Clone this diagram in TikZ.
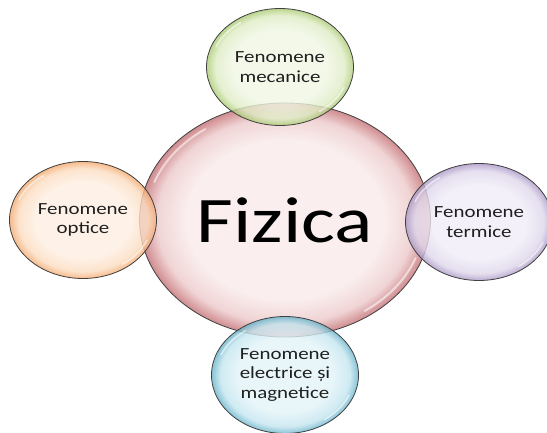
\documentclass[tikz,border=0pt]{standalone}
\usepackage{fontspec}
\setmainfont{Carlito}[FakeStretch=1.23]
\usetikzlibrary{shapes.geometric}
\definecolor{pinkin}{RGB}{250,238,238}
\definecolor{pinkmid}{RGB}{240,212,213}
\definecolor{pinkout}{RGB}{208,140,143}
\definecolor{greenin}{RGB}{240,246,228}
\definecolor{greenmid}{RGB}{222,236,196}
\definecolor{greenout}{RGB}{170,202,115}
\definecolor{orangein}{RGB}{254,239,226}
\definecolor{orangemid}{RGB}{251,220,192}
\definecolor{orangeout}{RGB}{244,170,112}
\definecolor{purplein}{RGB}{240,236,247}
\definecolor{purplemid}{RGB}{222,214,234}
\definecolor{purpleout}{RGB}{170,152,198}
\definecolor{bluein}{RGB}{226,243,248}
\definecolor{bluemid}{RGB}{196,229,239}
\definecolor{blueout}{RGB}{105,180,202}
\pgfdeclareradialshading{bpink}{\pgfpoint{0bp}{0bp}}{color(0bp)=(pinkin); color(17bp)=(pinkin); color(22bp)=(pinkmid); color(25bp)=(pinkout); color(50bp)=(pinkout)}
\pgfdeclareradialshading{bgreen}{\pgfpoint{0bp}{0bp}}{color(0bp)=(greenin); color(16bp)=(greenin); color(22bp)=(greenmid); color(25bp)=(greenout); color(50bp)=(greenout)}
\pgfdeclareradialshading{borange}{\pgfpoint{0bp}{0bp}}{color(0bp)=(orangein); color(16bp)=(orangein); color(22bp)=(orangemid); color(25bp)=(orangeout); color(50bp)=(orangeout)}
\pgfdeclareradialshading{bpurple}{\pgfpoint{0bp}{0bp}}{color(0bp)=(purplein); color(16bp)=(purplein); color(22bp)=(purplemid); color(25bp)=(purpleout); color(50bp)=(purpleout)}
\pgfdeclareradialshading{bblue}{\pgfpoint{0bp}{0bp}}{color(0bp)=(bluein); color(16bp)=(bluein); color(22bp)=(bluemid); color(25bp)=(blueout); color(50bp)=(blueout)}
\tikzset{
  bubble/.style={ellipse, draw=black!75, line width=0.8pt, inner sep=0pt,
    align=center, text=black!88, font=\fontsize{17}{19.5}\selectfont},
  sat/.style={bubble, fill opacity=0.8, text opacity=1, minimum width=147pt, minimum height=117pt},
  shine/.style={white, line width=2pt, opacity=0.55, line cap=round},
}
\begin{document}
\begin{tikzpicture}[x=1pt,y=1pt]
\useasboundingbox (0,0) rectangle (547,432);
\clip (0,0) rectangle (547,432);
\node[bubble, shading=bpink, minimum width=291pt, minimum height=234pt,
  font=\fontsize{65}{70}\selectfont, text=black] (fiz) at (285,212) {Fizica};
\draw[shine] (285,212) ++(125:139 and 111) arc[start angle=125, end angle=160, x radius=139, y radius=111];
\draw[shine] (285,212) ++(-55:139 and 111) arc[start angle=-55, end angle=-20, x radius=139, y radius=111];
\node[sat, shading=bgreen] (mec) at (280,365) {Fenomene\\mecanice};
\node[sat, shading=borange] (opt) at (83,212) {Fenomene\\optice};
\node[sat, shading=bpurple] (ter) at (479,210) {Fenomene\\termice};
\node[sat, shading=bblue] (ele) at (285,57) {Fenomene\\electrice și\\magnetice};
\foreach \c in {(280,365),(83,212),(479,210),(285,57)}{
  \draw[shine, line width=1.6pt] \c ++(125:69 and 54) arc[start angle=125, end angle=158, x radius=69, y radius=54];
  \draw[shine, line width=1.6pt] \c ++(-55:69 and 54) arc[start angle=-55, end angle=-22, x radius=69, y radius=54];
}
\end{tikzpicture}
\end{document}
